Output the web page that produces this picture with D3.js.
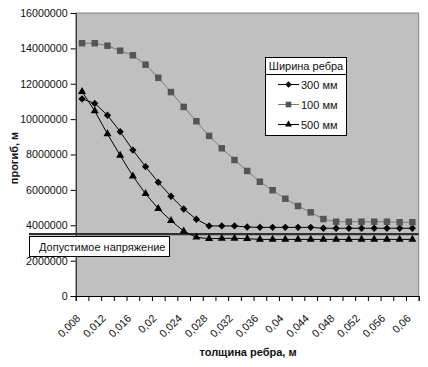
<!DOCTYPE html>
<html>
<head>
<meta charset="utf-8">
<script src="https://cdn.jsdelivr.net/npm/d3@7"></script>
<style>
body { margin:0; background:#fff; }
svg text { font-family:"Liberation Sans", Arial, sans-serif; fill:#111; }
.axis path, .axis line { stroke:#000; }
</style>
</head>
<body>
<svg id="chart" width="428" height="367"></svg>
<script>
// толщина ребра, м
const categories = ["0.008","0.010","0.012","0.014","0.016","0.018","0.020","0.022","0.024","0.026",
    "0.028","0.030","0.032","0.034","0.036","0.038","0.040","0.042","0.044","0.046",
    "0.048","0.050","0.052","0.054","0.056","0.058","0.060"]
const tickLabels = ["0,008","","0,012","","0,016","","0,02","","0,024","","0,028","","0,032","",
    "0,036","","0,04","","0,044","","0,048","","0,052","","0,056","","0,06"]

const w300 = [11140000,10890000,10220000,9290000,8250000,7310000,6430000,5640000,4920000,4340000,
    3960000,3960000,3960000,3900000,3880000,3880000,3880000,3880000,3880000,3830000,
    3830000,3830000,3830000,3830000,3830000,3830000,3830000]
const w100 = [14290000,14290000,14150000,13870000,13610000,13080000,12340000,11530000,10690000,9880000,
    9050000,8350000,7690000,7070000,6460000,5980000,5500000,5090000,4730000,4350000,
    4200000,4200000,4200000,4200000,4200000,4170000,4170000]
const w500 = [11550000,10460000,9160000,7950000,6780000,5780000,4940000,4260000,3670000,3320000,
    3240000,3260000,3260000,3240000,3200000,3200000,3200000,3200000,3200000,3200000,
    3200000,3200000,3200000,3200000,3200000,3200000,3200000]
const allowed = 3500000

const yTicks = [0,2000000,4000000,6000000,8000000,10000000,12000000,14000000,16000000]

const series = [
    {name:"300 мм", values:w300, symbol:d3.symbolDiamond2 || d3.symbolDiamond, size:34, line:"#000", fill:"#000"},
    {name:"100 мм", values:w100, symbol:d3.symbolSquare, size:42, line:"#7a7a7a", fill:"#555"},
    {name:"500 мм", values:w500, symbol:d3.symbolTriangle, size:28, line:"#000", fill:"#000"}
]

const plot = {left:75.7, right:418.7, top:13, bottom:296}
const svg = d3.select("#chart")

const xScale = d3.scaleLinear().domain([0, categories.length]).range([plot.left, plot.right])
const yScale = d3.scaleLinear().domain([0, 16000000]).range([plot.bottom, plot.top])
const cx = (i)=> xScale(i + 0.5)

svg.append("rect")
    .attr("x", plot.left).attr("y", plot.top)
    .attr("width", plot.right - plot.left).attr("height", plot.bottom - plot.top)
    .attr("fill", "#c0c0c0")
svg.append("path")
    .attr("d", "M"+plot.left+","+plot.top+"H"+plot.right+"V"+plot.bottom)
    .attr("fill", "none").attr("stroke", "#808080")

// y axis
const yAxis = d3.axisLeft(yScale).tickValues(yTicks).tickSize(5).tickPadding(3).tickFormat(d3.format("d"))
const yG = svg.append("g").attr("class","axis").attr("transform","translate("+plot.left+",0)").call(yAxis)
yG.selectAll("text").style("font-size","10.7px")

// x axis, ticks between categories
const xAxis = d3.axisBottom(xScale).tickValues(d3.range(categories.length + 1)).tickSize(5).tickFormat("")
svg.append("g").attr("class","axis").attr("transform","translate(0,"+plot.bottom+")").call(xAxis)

svg.append("g").selectAll("text")
    .data(tickLabels)
    .join("text")
    .attr("transform", (d,i)=> "translate("+(cx(i)-1)+","+(plot.bottom+23)+") rotate(-45)")
    .attr("text-anchor","end")
    .style("font-size","10.7px")
    .text(d=>d)

// allowed stress line
svg.append("line")
    .attr("x1", 29).attr("x2", plot.right)
    .attr("y1", yScale(allowed)).attr("y2", yScale(allowed))
    .attr("stroke","#303030").attr("stroke-width",2.2)
svg.append("rect")
    .attr("x",29.5).attr("y",236.5).attr("width",140).attr("height",20)
    .attr("fill","#fff").attr("stroke","#000")
svg.append("text")
    .attr("x",39).attr("y",251)
    .style("font-size","11px")
    .text("Допустимое напряжение")

// series
const line = d3.line().x((d,i)=>cx(i)).y(d=>yScale(d))
series.forEach(s=>{
    const g = svg.append("g")
    g.append("path").attr("d", line(s.values))
        .attr("fill","none").attr("stroke", s.line).attr("stroke-width",1)
    g.selectAll("path.m").data(s.values).join("path")
        .attr("class","m")
        .attr("transform",(d,i)=>"translate("+cx(i)+","+yScale(d)+")")
        .attr("d", d3.symbol().type(s.symbol).size(s.size))
        .attr("fill", s.fill)
})

// legend
const lg = svg.append("g")
lg.append("rect").attr("x",265.5).attr("y",57.5).attr("width",81).attr("height",78)
    .attr("fill","#fff").attr("stroke","#000")
lg.append("line").attr("x1",265.5).attr("x2",346.5).attr("y1",74.5).attr("y2",74.5).attr("stroke","#000")
lg.append("text").attr("x",306).attr("y",70).attr("text-anchor","middle")
    .style("font-size","11px").text("Ширина ребра")
series.forEach((s,i)=>{
    const y = 84.5 + i*20
    lg.append("line").attr("x1",278).attr("x2",299).attr("y1",y).attr("y2",y).attr("stroke",s.line)
    lg.append("path").attr("transform","translate(288.5,"+y+")")
        .attr("d", d3.symbol().type(s.symbol).size(s.size*0.75)).attr("fill",s.fill)
    lg.append("text").attr("x",301).attr("y",y+4).style("font-size","11px").text(s.name)
})

// titles
svg.append("text")
    .attr("transform","translate(18,158) rotate(-90)")
    .attr("text-anchor","middle")
    .style("font-size","11px").style("font-weight","bold")
    .text("прогиб, м")
svg.append("text")
    .attr("x",248).attr("y",356)
    .attr("text-anchor","middle")
    .style("font-size","11px").style("font-weight","bold")
    .text("толщина ребра, м")
</script>
</body>
</html>
